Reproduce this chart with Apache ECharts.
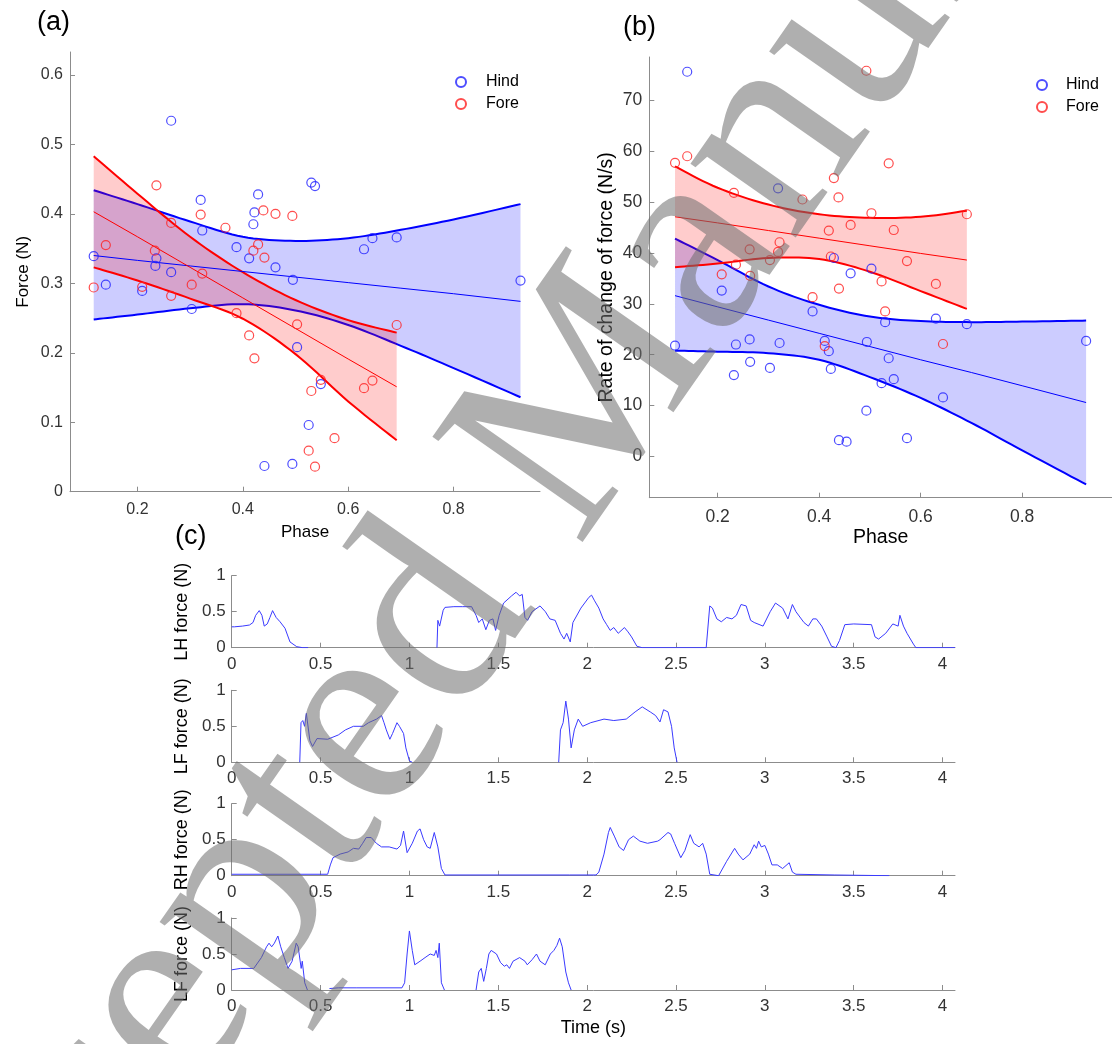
<!DOCTYPE html>
<html>
<head>
<meta charset="utf-8">
<script src="https://cdn.jsdelivr.net/npm/echarts@6/dist/echarts.min.js"></script>
<style>
  html, body { margin: 0; padding: 0; background: #fff; }
  #chart { width: 1112px; height: 1044px; }
</style>
</head>
<body>
<div id="chart"></div>
<script>
const FONT = '"Liberation Sans", Arial, sans-serif';

// (a) peak force against phase
const hindPhaseA = [0.117, 0.140, 0.264, 0.209, 0.234, 0.236, 0.264, 0.303, 0.320, 0.323, 0.388, 0.412, 0.420, 0.422, 0.429, 0.462, 0.495, 0.503, 0.441, 0.494, 0.525, 0.530, 0.537, 0.548, 0.630, 0.646, 0.692, 0.927];
const hindForceA = [0.339, 0.298, 0.534, 0.289, 0.325, 0.336, 0.316, 0.263, 0.420, 0.376, 0.352, 0.336, 0.385, 0.402, 0.428, 0.323, 0.305, 0.208, 0.037, 0.040, 0.096, 0.445, 0.440, 0.155, 0.349, 0.365, 0.366, 0.304];
const forePhaseA = [0.117, 0.140, 0.209, 0.236, 0.233, 0.264, 0.264, 0.303, 0.320, 0.323, 0.367, 0.388, 0.412, 0.422, 0.420, 0.429, 0.439, 0.441, 0.462, 0.494, 0.503, 0.525, 0.530, 0.537, 0.548, 0.574, 0.630, 0.646, 0.692];
const foreForceA = [0.294, 0.355, 0.295, 0.441, 0.347, 0.387, 0.282, 0.298, 0.399, 0.314, 0.380, 0.257, 0.225, 0.192, 0.347, 0.356, 0.405, 0.337, 0.400, 0.397, 0.241, 0.059, 0.145, 0.036, 0.161, 0.077, 0.149, 0.160, 0.240];

// regression line and confidence band, read at a few phases
const hindBandXA = [0.117, 0.2, 0.3, 0.4, 0.5, 0.6, 0.7, 0.8, 0.927];
const hindFitA   = [0.340, 0.333, 0.325, 0.317, 0.309, 0.301, 0.293, 0.285, 0.274];
const hindUpA    = [0.434, 0.414, 0.389, 0.367, 0.361, 0.365, 0.377, 0.392, 0.414];
const hindLoA    = [0.248, 0.255, 0.264, 0.270, 0.261, 0.240, 0.210, 0.178, 0.136];
const foreBandXA = [0.117, 0.2, 0.3, 0.4, 0.5, 0.6, 0.692];
const foreFitA   = [0.403, 0.367, 0.323, 0.279, 0.235, 0.191, 0.151];
const foreUpA    = [0.483, 0.429, 0.367, 0.316, 0.276, 0.247, 0.229];
const foreLoA    = [0.323, 0.304, 0.278, 0.249, 0.198, 0.130, 0.074];

// (b) rate of change of force against phase
const hindPhaseB = [0.116, 0.140, 0.208, 0.232, 0.236, 0.263, 0.264, 0.303, 0.319, 0.322, 0.387, 0.411, 0.419, 0.423, 0.429, 0.439, 0.454, 0.462, 0.493, 0.494, 0.503, 0.523, 0.530, 0.537, 0.547, 0.573, 0.630, 0.644, 0.691, 0.926];
const hindRateB  = [21.8, 75.6, 32.6, 16.0, 22.0, 23.0, 18.6, 17.4, 52.7, 22.3, 28.5, 22.7, 20.7, 17.2, 39.0, 3.2, 2.9, 36.0, 9.0, 22.5, 36.9, 14.4, 26.4, 19.3, 15.2, 3.6, 27.1, 11.6, 26.0, 22.7];
const forePhaseB = [0.116, 0.140, 0.208, 0.232, 0.236, 0.263, 0.264, 0.303, 0.319, 0.322, 0.367, 0.387, 0.411, 0.419, 0.423, 0.429, 0.438, 0.439, 0.462, 0.493, 0.503, 0.523, 0.530, 0.537, 0.547, 0.573, 0.630, 0.644, 0.691];
const foreRateB  = [57.7, 59.0, 35.8, 51.8, 37.7, 40.7, 35.5, 38.6, 40.2, 42.1, 50.5, 31.3, 21.7, 44.4, 39.3, 54.7, 50.9, 33.0, 45.5, 75.8, 47.8, 34.4, 28.5, 57.6, 44.5, 38.4, 33.9, 22.1, 47.6];

const hindBandXB = [0.116, 0.2, 0.3, 0.4, 0.5, 0.6, 0.7, 0.8, 0.926];
const hindFitB   = [31.6, 29.4, 26.8, 24.2, 21.6, 19.0, 16.5, 13.9, 10.6];
const hindUpB    = [42.8, 38.6, 33.4, 29.8, 27.5, 26.6, 26.4, 26.5, 26.7];
const hindLoB    = [20.8, 20.6, 20.3, 19.0, 15.6, 11.5, 6.6, 1.2, -5.5];
const foreBandXB = [0.116, 0.2, 0.3, 0.4, 0.5, 0.6, 0.691];
const foreFitB   = [47.1, 45.9, 44.4, 42.9, 41.4, 39.9, 38.6];
const foreUpB    = [57.0, 52.8, 49.5, 47.6, 46.9, 47.1, 48.3];
const foreLoB    = [37.2, 37.9, 39.0, 38.8, 36.3, 32.5, 29.0];

// (c) force traces, [time s, force N]; null breaks the line
const lhTrace = [[0, 0.29], [0.015, 0.29], [0.06, 0.30], [0.10, 0.315], [0.12, 0.35], [0.135, 0.45], [0.155, 0.515], [0.17, 0.45], [0.183, 0.30], [0.20, 0.33], [0.215, 0.42], [0.23, 0.515], [0.25, 0.42], [0.272, 0.36], [0.30, 0.27], [0.328, 0.08], [0.366, 0.014], [0.40, 0], [0.43, 0], [0.44, null],
  [1.155, 0], [1.16, 0.38], [1.17, 0.30], [1.19, 0.52], [1.20, 0.56], [1.25, 0.57], [1.30, 0.57], [1.35, 0.57], [1.375, 0.45], [1.39, 0.35], [1.41, 0.40], [1.43, 0.25], [1.45, 0.38], [1.47, 0.40], [1.485, 0.24], [1.505, 0.45], [1.53, 0.62], [1.575, 0.72], [1.60, 0.77], [1.62, 0.72], [1.635, 0.74], [1.65, 0.42], [1.665, 0.38], [1.69, 0.50], [1.735, 0.58], [1.765, 0.50], [1.79, 0.40], [1.82, 0.38], [1.85, 0.20], [1.87, 0.12], [1.885, 0.20], [1.905, 0.08], [1.92, 0.35], [1.965, 0.55], [2.01, 0.70], [2.025, 0.73], [2.04, 0.66], [2.066, 0.55], [2.09, 0.40], [2.11, 0.32], [2.13, 0.24], [2.15, 0.28], [2.175, 0.20], [2.21, 0.28], [2.23, 0.22], [2.25, 0.15], [2.28, 0.02], [2.31, 0],
  [2.67, 0], [2.69, 0.58], [2.705, 0.55], [2.73, 0.40], [2.755, 0.36], [2.785, 0.42], [2.815, 0.40], [2.84, 0.45], [2.866, 0.60], [2.895, 0.58], [2.92, 0.38], [2.94, 0.35], [2.99, 0.30], [3.03, 0.50], [3.06, 0.62], [3.10, 0.55], [3.13, 0.40], [3.155, 0.60], [3.175, 0.50], [3.22, 0.35], [3.245, 0.30], [3.27, 0.40], [3.29, 0.40], [3.32, 0.30], [3.35, 0.15], [3.375, 0.02], [3.40, 0], [3.42, 0.10], [3.45, 0.32], [3.50, 0.33], [3.60, 0.32], [3.62, 0.15], [3.64, 0.12], [3.68, 0.20], [3.72, 0.33], [3.75, 0.30], [3.76, 0.45], [3.78, 0.30], [3.80, 0.20], [3.836, 0.05], [3.85, 0], [4.07, 0]];
const lfTrace = [[0.383, 0], [0.39, 0.55], [0.40, 0.58], [0.41, 0.50], [0.42, 0.68], [0.44, 0.30], [0.455, 0.22], [0.48, 0.33], [0.54, 0.32], [0.60, 0.38], [0.64, 0.45], [0.685, 0.50], [0.74, 0.50], [0.77, 0.55], [0.815, 0.60], [0.843, 0.65], [0.857, 0.55], [0.87, 0.45], [0.89, 0.32], [0.905, 0.40], [0.93, 0.55], [0.944, 0.50], [0.967, 0.40], [0.98, 0.20], [1.0, 0.02], [1.016, 0], [1.02, null],
  [1.84, 0], [1.85, 0.45], [1.865, 0.55], [1.88, 0.85], [1.895, 0.60], [1.91, 0.20], [1.928, 0.45], [1.95, 0.60], [1.975, 0.50], [2.02, 0.55], [2.095, 0.60], [2.15, 0.58], [2.22, 0.60], [2.27, 0.70], [2.31, 0.77], [2.355, 0.70], [2.385, 0.65], [2.41, 0.56], [2.43, 0.73], [2.455, 0.70], [2.475, 0.50], [2.49, 0.20], [2.506, 0]];
const rhTrace = [[0, 0.02], [0.3, 0.02], [0.54, 0.02], [0.555, 0.15], [0.57, 0.25], [0.61, 0.30], [0.655, 0.33], [0.685, 0.38], [0.715, 0.37], [0.737, 0.45], [0.757, 0.53], [0.785, 0.53], [0.814, 0.45], [0.843, 0.40], [0.886, 0.40], [0.93, 0.37], [0.95, 0.42], [0.967, 0.62], [0.987, 0.32], [1.016, 0.45], [1.045, 0.62], [1.06, 0.65], [1.08, 0.50], [1.10, 0.40], [1.117, 0.38], [1.14, 0.60], [1.16, 0.40], [1.18, 0.10], [1.20, 0.01], [1.5, 0.01], [1.9, 0.01], [2.05, 0.01],
  [2.066, 0.05], [2.095, 0.30], [2.12, 0.60], [2.13, 0.67], [2.153, 0.55], [2.18, 0.40], [2.205, 0.35], [2.233, 0.50], [2.26, 0.55], [2.297, 0.48], [2.34, 0.45], [2.397, 0.48], [2.41, 0.50], [2.455, 0.60], [2.47, 0.58], [2.492, 0.45], [2.527, 0.25], [2.55, 0.35], [2.58, 0.57], [2.60, 0.45], [2.63, 0.40], [2.65, 0.45], [2.67, 0.30], [2.69, 0.02], [2.74, 0], [2.785, 0.20], [2.83, 0.38], [2.85, 0.30], [2.877, 0.22], [2.915, 0.30], [2.94, 0.43], [2.953, 0.38], [2.965, 0.48], [2.98, 0.40], [3.0, 0.42], [3.02, 0.30], [3.04, 0.15], [3.07, 0.15], [3.1, 0.10], [3.137, 0.18], [3.155, 0.05], [3.175, 0.02], [3.39, 0.01], [3.7, 0]];
const lf2Trace = [[0, 0.28], [0.05, 0.30], [0.124, 0.30], [0.167, 0.45], [0.196, 0.60], [0.21, 0.65], [0.225, 0.60], [0.24, 0.65], [0.26, 0.75], [0.276, 0.60], [0.296, 0.45], [0.317, 0.30], [0.34, 0.40], [0.363, 0.65], [0.374, 0.60], [0.391, 0.30], [0.397, 0.40], [0.411, 0.10], [0.426, 0], [0.43, null],
  [0.55, 0.02], [0.6, 0.03], [0.7, 0.03], [0.958, 0.03], [0.973, 0.10], [0.987, 0.50], [1.0, 0.82], [1.016, 0.55], [1.03, 0.35], [1.06, 0.40], [1.088, 0.45], [1.117, 0.50], [1.14, 0.48], [1.15, 0.55], [1.16, 0.45], [1.168, 0.65], [1.18, 0.10], [1.197, 0], [1.2, null],
  [1.375, 0], [1.39, 0.25], [1.404, 0.30], [1.418, 0.12], [1.433, 0.30], [1.447, 0.50], [1.46, 0.55], [1.49, 0.50], [1.513, 0.38], [1.534, 0.33], [1.548, 0.35], [1.563, 0.30], [1.583, 0.40], [1.62, 0.45], [1.65, 0.40], [1.663, 0.35], [1.69, 0.42], [1.715, 0.50], [1.735, 0.40], [1.764, 0.35], [1.793, 0.50], [1.813, 0.55], [1.83, 0.62], [1.845, 0.72], [1.86, 0.60], [1.88, 0.25], [1.895, 0.10], [1.91, 0]];

const phaseTicks = [0.2, 0.4, 0.6, 0.8];
const forceTicks = [0, 0.1, 0.2, 0.3, 0.4, 0.5, 0.6];
const rateTicks = [0, 10, 20, 30, 40, 50, 60, 70];
const timeTicks = [0, 0.5, 1, 1.5, 2, 2.5, 3, 3.5, 4];
const traceTicks = [0, 0.5, 1];

const BLUE = '#0000ff';
const RED = '#ff0000';
const axisGray = '#8c8c8c';
const textGray = '#333333';

function pairs(xs, ys) {
  return xs.map((x, i) => [x, ys[i]]);
}

function axis(grid, min, max, ticks, fontSize, margin, extra) {
  return Object.assign({
    gridIndex: grid,
    type: 'value',
    min: min,
    max: max,
    axisLine: { show: true, onZero: false, lineStyle: { color: axisGray, width: 1 } },
    axisTick: { show: true, inside: true, length: 5, customValues: ticks, lineStyle: { color: axisGray } },
    axisLabel: { customValues: ticks, color: textGray, fontSize: fontSize, fontFamily: FONT, margin: margin },
    splitLine: { show: false },
    nameTextStyle: { color: textGray, fontFamily: FONT }
  }, extra || {});
}

// Catmull-Rom through the pixel positions of the read points, only so the
// band edges are drawn as smooth curves
function smoothPts(pts) {
  const out = [];
  const n = pts.length;
  for (let i = 0; i < n - 1; i++) {
    const p0 = pts[Math.max(i - 1, 0)], p1 = pts[i], p2 = pts[i + 1], p3 = pts[Math.min(i + 2, n - 1)];
    for (let s = 0; s < 10; s++) {
      const t = s / 10, t2 = t * t, t3 = t2 * t;
      out.push([0, 1].map(k => 0.5 * (2 * p1[k] + (p2[k] - p0[k]) * t +
        (2 * p0[k] - 5 * p1[k] + 4 * p2[k] - p3[k]) * t2 +
        (3 * p1[k] - p0[k] - 3 * p2[k] + p3[k]) * t3)));
    }
  }
  out.push(pts[n - 1]);
  return out;
}

// shaded confidence band with its two edge lines
function band(idx, xs, lo, up, color, fill) {
  return {
    type: 'custom', xAxisIndex: idx, yAxisIndex: idx, silent: true, z: 2,
    data: [[xs[0], lo[0]]],
    renderItem: function (params, api) {
      const U = smoothPts(xs.map((x, i) => api.coord([x, up[i]])));
      const L = smoothPts(xs.map((x, i) => api.coord([x, lo[i]])));
      return {
        type: 'group',
        children: [
          { type: 'polygon', shape: { points: U.concat(L.slice().reverse()) }, style: { fill: fill } },
          { type: 'polyline', shape: { points: U }, style: { stroke: color, lineWidth: 2, fill: null } },
          { type: 'polyline', shape: { points: L }, style: { stroke: color, lineWidth: 2, fill: null } }
        ]
      };
    }
  };
}

function fitLine(idx, xs, ys, color) {
  return {
    type: 'line', xAxisIndex: idx, yAxisIndex: idx, data: pairs(xs, ys),
    symbol: 'none', silent: true, lineStyle: { color: color, width: 1 }, z: 3
  };
}

function dots(idx, name, xs, ys, color) {
  return {
    type: 'scatter', name: name, xAxisIndex: idx, yAxisIndex: idx, data: pairs(xs, ys),
    symbol: 'circle', symbolSize: 9, z: 4,
    itemStyle: { color: 'rgba(255,255,255,0)', borderColor: color, borderWidth: 1.2 }
  };
}

function trace(idx, data) {
  return {
    type: 'line', xAxisIndex: idx, yAxisIndex: idx, data: data, symbol: 'none',
    connectNulls: false, silent: true, lineStyle: { color: '#3a3aff', width: 1 }
  };
}

const titleStyle = { fontSize: 27, fontWeight: 'normal', color: '#000', fontFamily: FONT };
const legendBase = {
  orient: 'vertical', data: ['Hind', 'Fore'], selectedMode: false,
  itemHeight: 10, itemGap: 6,
  textStyle: { fontSize: 16, color: '#000', fontFamily: FONT, lineHeight: 16 }
};

const traceNames = ['LH force (N)', 'LF force (N)', 'RH force (N)', 'LF force (N)'];
const traceTops = [575.7, 690.3, 803.7, 918];

const option = {
  backgroundColor: '#fff',
  animation: false,
  title: [
    { text: '(a)', left: 37, top: 9, padding: 0, textStyle: titleStyle },
    { text: '(b)', left: 623, top: 14, padding: 0, textStyle: titleStyle },
    { text: '(c)', left: 175, top: 523, padding: 0, textStyle: titleStyle }
  ],
  legend: [
    Object.assign({ left: 450, top: 69, itemWidth: 40 }, legendBase),
    Object.assign({ left: 1031, top: 72, itemWidth: 38 }, legendBase)
  ],
  grid: [
    { left: 70, top: 52, width: 470, height: 439.7 },
    { left: 649.3, top: 57, width: 478.7, height: 440.7 }
  ].concat(traceTops.map(t => ({ left: 231.7, top: t, width: 723.3, height: 72 }))),
  xAxis: [
    axis(0, 0.072, 0.964, phaseTicks, 16, 10, {
      name: 'Phase', nameLocation: 'middle', nameGap: 32,
      nameTextStyle: { color: '#000', fontFamily: FONT, fontSize: 17 }
    }),
    axis(1, 0.0653, 0.977, phaseTicks, 17.5, 10, {
      name: 'Phase', nameLocation: 'middle', nameGap: 30,
      nameTextStyle: { color: '#000', fontFamily: FONT, fontSize: 19.5 }
    })
  ].concat(traceTops.map((t, k) => axis(2 + k, 0, 4.07, timeTicks, 17, 8, k === 3 ? {
    name: 'Time (s)', nameLocation: 'middle', nameGap: 29,
    nameTextStyle: { color: '#000', fontFamily: FONT, fontSize: 18 }
  } : {}))),
  yAxis: [
    axis(0, 0, 0.633, forceTicks, 16, 7, {
      name: 'Force (N)', nameLocation: 'middle', nameRotate: 90, nameGap: 38,
      nameTextStyle: { color: '#000', fontFamily: FONT, fontSize: 17 }
    }),
    axis(1, -8.1, 78.5, rateTicks, 17.5, 7, {
      name: 'Rate of change of force (N/s)', nameLocation: 'middle', nameRotate: 90, nameGap: 33,
      nameTextStyle: { color: '#000', fontFamily: FONT, fontSize: 19.5 }
    })
  ].concat(traceNames.map((n, k) => axis(2 + k, 0, 1, traceTicks, 17, 6, {
    name: n, nameLocation: 'middle', nameRotate: 90, nameGap: 40,
    nameTextStyle: { color: '#000', fontFamily: FONT, fontSize: 18 }
  }))),
  series: [
    band(0, hindBandXA, hindLoA, hindUpA, BLUE, 'rgba(0,0,255,0.2)'),
    band(0, foreBandXA, foreLoA, foreUpA, RED, 'rgba(255,0,0,0.2)'),
    fitLine(0, hindBandXA, hindFitA, BLUE),
    fitLine(0, foreBandXA, foreFitA, RED),
    dots(0, 'Hind', hindPhaseA, hindForceA, '#2020ff'),
    dots(0, 'Fore', forePhaseA, foreForceA, '#ff2020'),
    band(1, hindBandXB, hindLoB, hindUpB, BLUE, 'rgba(0,0,255,0.2)'),
    band(1, foreBandXB, foreLoB, foreUpB, RED, 'rgba(255,0,0,0.2)'),
    fitLine(1, hindBandXB, hindFitB, BLUE),
    fitLine(1, foreBandXB, foreFitB, RED),
    dots(1, 'Hind', hindPhaseB, hindRateB, '#2020ff'),
    dots(1, 'Fore', forePhaseB, foreRateB, '#ff2020'),
    trace(2, lhTrace),
    trace(3, lfTrace),
    trace(4, rhTrace),
    trace(5, lf2Trace)
  ],
  graphic: [{
    type: 'text', x: -14, y: 1510, rotation: 0.96, z: 100, silent: true,
    style: {
      text: 'Accepted Manuscript', fontSize: 280, fontFamily: '"Liberation Serif", serif',
      fill: 'rgba(110,110,110,0.55)', align: 'left', verticalAlign: 'bottom'
    }
  }]
};

const chart = echarts.init(document.getElementById('chart'));
chart.setOption(option);
</script>
</body>
</html>
